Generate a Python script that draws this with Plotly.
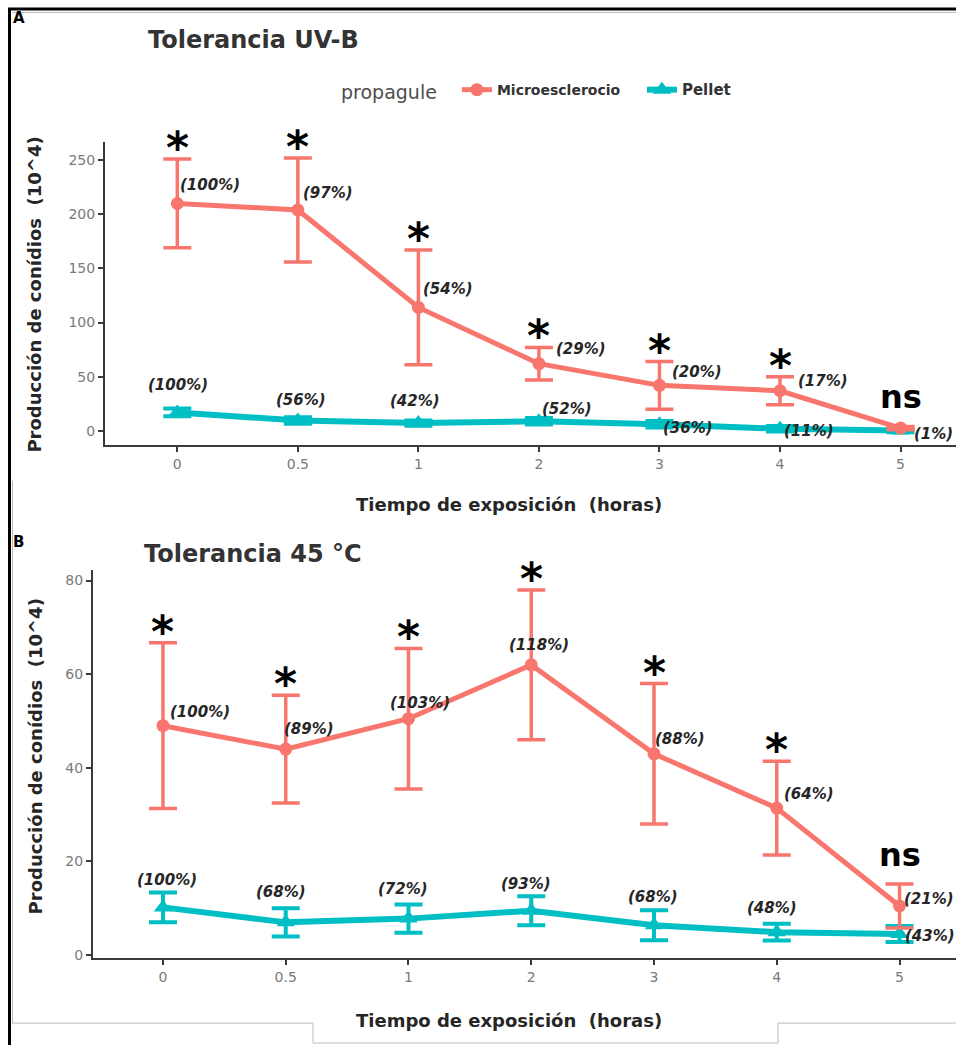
import plotly.graph_objects as go

# ---------------- data ----------------
times = ["0", "0.5", "1", "2", "3", "4", "5"]

uv_micro = [210, 204, 114, 62, 42, 37, 2.5]
uv_micro_err = [41, 48, 53, 15, 22, 13, 1.5]
uv_pellet = [17, 9.5, 7.1, 8.8, 6.1, 1.9, 0.2]
uv_pellet_err = [3.5, 3, 2.5, 3, 3, 2.5, 1.5]
uv_micro_pct = ["(100%)", "(97%)", "(54%)", "(29%)", "(20%)", "(17%)", "(1%)"]
uv_pellet_pct = ["(100%)", "(56%)", "(42%)", "(52%)", "(36%)", "(11%)", ""]
uv_signif = ["*", "*", "*", "*", "*", "*", "ns"]

heat_micro = [49, 44, 50.5, 62, 43, 31.4, 10.5]
heat_micro_err = [17.7, 11.5, 15, 16, 15, 10, 4.7]
heat_pellet = [10.2, 7, 7.8, 9.5, 6.4, 4.9, 4.5]
heat_pellet_err = [3.2, 3, 3, 3.1, 3.2, 1.8, 1.7]
heat_micro_pct = ["(100%)", "(89%)", "(103%)", "(118%)", "(88%)", "(64%)", "(21%)"]
heat_pellet_pct = ["(100%)", "(68%)", "(72%)", "(93%)", "(68%)", "(48%)", "(43%)"]
heat_signif = ["*", "*", "*", "*", "*", "*", "ns"]

uv_yticks = [0, 50, 100, 150, 200, 250]
heat_yticks = [0, 20, 40, 60, 80]

# ---------------- styles ----------------
RED = "#F8766D"
TEAL = "#00BFC4"
FONT = "DejaVu Sans"
W, H = 956, 1050


def px(X):
    return X / W


def py(Y):
    return 1 - Y / H


# label pixel offsets (dx right, dy down)
uv_micro_off = [(33, -18), (30, -17), (30, -18), (42, -15), (38, -13), (43, -10), (33, 6)]
uv_pellet_off = [(1, -27), (3, -21), (-3, -22), (28, -12), (29, 4), (29, 2), (0, 0)]
heat_micro_off = [(37, -14), (23, -20), (12, -16), (8, -20), (26, -15), (32, -14), (29, -7)]
heat_pellet_off = [(4, -27), (-5, -30), (-5, -30), (-5, -27), (-1, -28), (-5, -24), (30, 2)]

fig = go.Figure()


def add_series(xa, ya, micro, micro_err, pellet, pellet_err, show):
    fig.add_trace(go.Scatter(
        x=times, y=pellet, xaxis=xa, yaxis=ya, mode="lines+markers",
        name="<span style='font-size:15px'>Pellet</span>", legendrank=2, showlegend=show,
        line=dict(color=TEAL, width=6),
        marker=dict(symbol="triangle-up", size=16, color=TEAL),
        error_y=dict(type="data", array=pellet_err, color=TEAL, thickness=4, width=14),
    ))
    fig.add_trace(go.Scatter(
        x=times, y=micro, xaxis=xa, yaxis=ya, mode="lines+markers",
        name="Microesclerocio", legendrank=1, showlegend=show,
        line=dict(color=RED, width=5),
        marker=dict(symbol="circle", size=13, color=RED),
        error_y=dict(type="data", array=micro_err, color=RED, thickness=3.5, width=14),
    ))


add_series("x", "y", uv_micro, uv_micro_err, uv_pellet, uv_pellet_err, True)
add_series("x2", "y2", heat_micro, heat_micro_err, heat_pellet, heat_pellet_err, False)

annotations = []


def add_labels(xr, yr, vals, texts, offs):
    for i, (v, s, (dx, dy)) in enumerate(zip(vals, texts, offs)):
        if not s:
            continue
        annotations.append(dict(
            x=i, y=v, xref=xr, yref=yr, text=s, showarrow=False,
            xshift=dx, yshift=-dy, xanchor="center", yanchor="middle",
            font=dict(family=FONT, size=15, color="#262626", weight="bold", style="italic"),
        ))


def add_signif(xr, yr, vals, errs, marks):
    for i, (v, e, m) in enumerate(zip(vals, errs, marks)):
        if m == "*":
            annotations.append(dict(
                x=i, y=v + e, xref=xr, yref=yr, text="*", showarrow=False,
                xanchor="center", yanchor="bottom", yshift=-16,
                font=dict(family=FONT, size=44, color="black", weight="bold"),
            ))
        else:
            annotations.append(dict(
                x=i, y=v + e, xref=xr, yref=yr, text=m, showarrow=False,
                xanchor="center", yanchor="bottom", yshift=8,
                font=dict(family=FONT, size=32, color="black", weight="bold"),
            ))


add_labels("x", "y", uv_micro, uv_micro_pct, uv_micro_off)
add_labels("x", "y", uv_pellet, uv_pellet_pct, uv_pellet_off)
add_signif("x", "y", uv_micro, uv_micro_err, uv_signif)
add_labels("x2", "y2", heat_micro, heat_micro_pct, heat_micro_off)
add_labels("x2", "y2", heat_pellet, heat_pellet_pct, heat_pellet_off)
add_signif("x2", "y2", heat_micro, heat_micro_err, heat_signif)


def paper_text(txt, x, y, size, xanchor="left", angle=0, weight="bold", color="#333333"):
    annotations.append(dict(
        x=px(x), y=py(y), xref="paper", yref="paper", text=txt, showarrow=False,
        xanchor=xanchor, yanchor="middle", textangle=angle,
        font=dict(family=FONT, size=size, color=color, weight=weight),
    ))


paper_text("A", 11, 18, 15, color="black")
paper_text("B", 11, 545, 15, color="black")
paper_text("Tolerancia UV-B", 146, 40, 24)
paper_text("Tolerancia 45 °C", 142, 557, 24)
ytitle = "Producción de conídios\u00a0 (10^4)"
xtitle = "Tiempo de exposición\u00a0 (horas)"
paper_text(ytitle, 35, 296, 18, xanchor="center", angle=-90, color="#262626")
paper_text(ytitle, 35, 760, 18, xanchor="center", angle=-90, color="#262626")
paper_text(xtitle, 509, 507, 18, xanchor="center", color="#262626")
paper_text(xtitle, 509, 1025, 18, xanchor="center", color="#262626")

axis_common = dict(
    showgrid=False, zeroline=False, showline=True, linecolor="#3a3a3a", linewidth=2,
    ticks="outside", ticklen=5, tickwidth=1.5, tickcolor="#3a3a3a",
    tickfont=dict(family=FONT, size=14, color="#7a7a7a"),
)

fig.update_layout(
    width=W, height=H, margin=dict(l=0, r=0, t=0, b=0),
    paper_bgcolor="white", plot_bgcolor="white",
    xaxis=dict(domain=[px(105), 1.0], type="category", range=[-0.6, 6.46],
               anchor="y", **axis_common),
    yaxis=dict(domain=[py(447), py(143)], range=[-13, 266.5],
               tickvals=uv_yticks, anchor="x", **axis_common),
    xaxis2=dict(domain=[px(93), 1.0], type="category", range=[-0.57, 6.46],
                anchor="y2", **axis_common),
    yaxis2=dict(domain=[py(963), py(573)], range=[-0.7, 82.2],
                tickvals=heat_yticks, anchor="x2", **axis_common),
    showlegend=True,
    legend=dict(
        orientation="h", x=px(339), y=py(92), xanchor="left", yanchor="middle",
        title=dict(text="propagule\u00a0\u00a0",
                   font=dict(family=FONT, size=19, color="#4d4d4d", weight="normal")),
        font=dict(family=FONT, size=14, color="#333333", weight="bold"),
        entrywidth=140, entrywidthmode="pixels",
        bgcolor="rgba(0,0,0,0)", traceorder="normal",
    ),
    annotations=annotations,
)

# frame lines of the composed figure
shapes = [
    dict(type="line", x0=8, x1=956, y0=9, y1=9, line=dict(color="black", width=3)),
    dict(type="line", x0=9.5, x1=9.5, y0=8, y1=1050, line=dict(color="black", width=3)),
    dict(type="line", x0=12, x1=956, y0=12.5, y1=12.5, line=dict(color="#bbbbbb", width=1)),
    dict(type="line", x0=12.5, x1=12.5, y0=483, y1=1028, line=dict(color="#bbbbbb", width=1)),
    dict(type="line", x0=12, x1=313, y0=1028, y1=1028, line=dict(color="#bbbbbb", width=1)),
    dict(type="line", x0=313, x1=313, y0=1028, y1=1048, line=dict(color="#bbbbbb", width=1)),
    dict(type="line", x0=313, x1=778, y0=1048, y1=1048, line=dict(color="#bbbbbb", width=1)),
    dict(type="line", x0=778, x1=778, y0=1028, y1=1048, line=dict(color="#bbbbbb", width=1)),
    dict(type="line", x0=778, x1=956, y0=1028, y1=1028, line=dict(color="#bbbbbb", width=1)),
]
for s in shapes:
    s.update(xref="paper", yref="paper", x0=px(s["x0"]), x1=px(s["x1"]),
             y0=py(s["y0"]), y1=py(s["y1"]), layer="above")
fig.update_layout(shapes=shapes)

# remove the default 8px page margin so the figure fills the window exactly
fig.write_html(
    "out.html",
    config={"displayModeBar": False},
    post_script="document.body.style.margin='0';document.body.style.overflow='hidden';",
)
